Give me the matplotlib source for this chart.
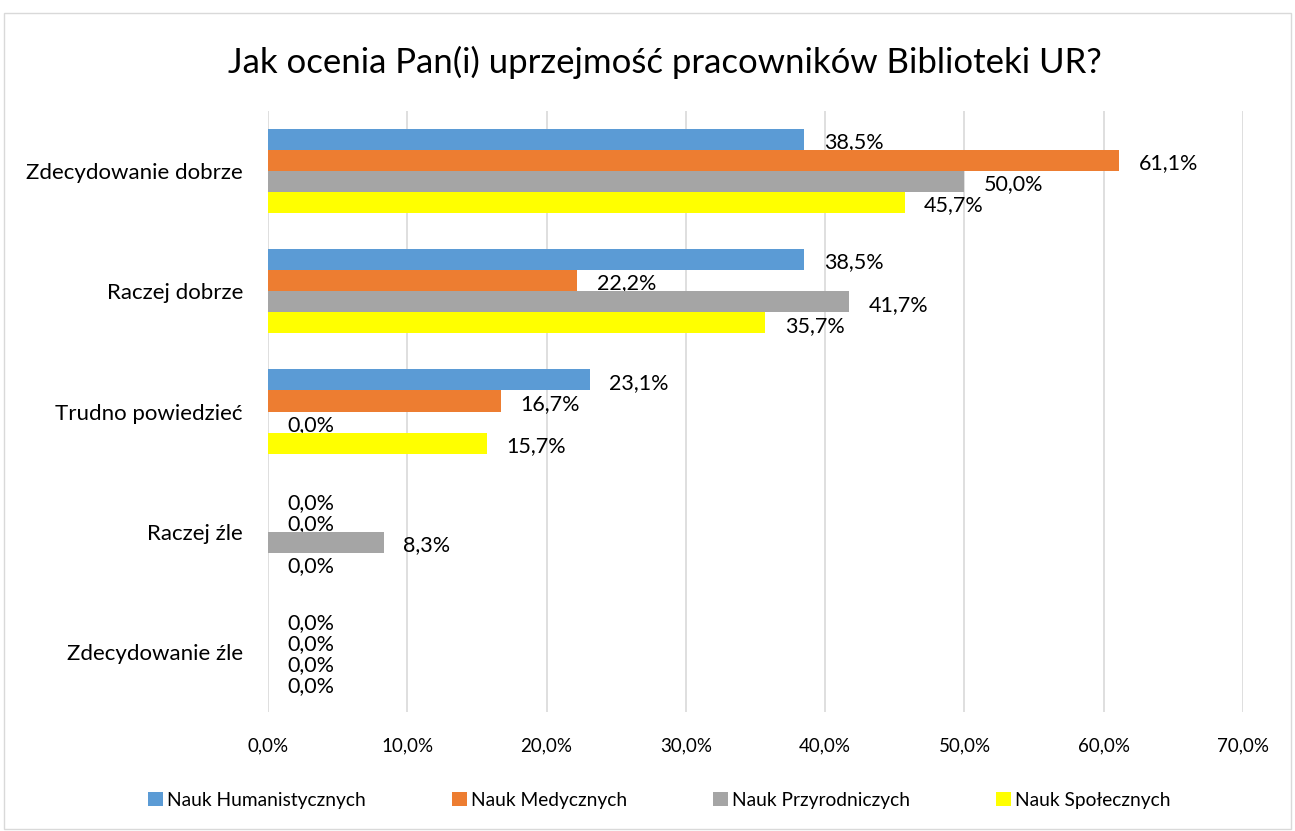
import matplotlib
matplotlib.use("Agg")
import matplotlib.pyplot as plt
import numpy as np
from matplotlib.patches import Rectangle
from matplotlib.ticker import FuncFormatter

plt.rcParams["font.family"] = ["Lato", "DejaVu Sans"]

# dane
kategorie = ["Zdecydowanie dobrze", "Raczej dobrze", "Trudno powiedzieć", "Raczej źle", "Zdecydowanie źle"]
serie = ["Nauk Humanistycznych", "Nauk Medycznych", "Nauk Przyrodniczych", "Nauk Społecznych"]
humanistyczne = [38.5, 38.5, 23.1, 0.0, 0.0]
medyczne = [61.1, 22.2, 16.7, 0.0, 0.0]
przyrodnicze = [50.0, 41.7, 0.0, 8.3, 0.0]
spoleczne = [45.7, 35.7, 15.7, 0.0, 0.0]
kolory = ["#5B9BD5", "#ED7D31", "#A5A5A5", "#FFFF00"]

wartosci = [humanistyczne, medyczne, przyrodnicze, spoleczne]

fig = plt.figure(figsize=(12.95, 8.31), dpi=100)
ax = fig.add_axes([0.2069, 0.1432, 0.7530, 0.7232])

# ramka wokół wykresu
fig.patches.append(Rectangle((0.003, 0.002), 0.994, 0.982, transform=fig.transFigure,
                             fill=False, edgecolor="#D9D9D9", linewidth=1))

y = np.arange(len(kategorie))
h = 0.175
for i, (vals, kol, nazwa) in enumerate(zip(wartosci, kolory, serie)):
    pos = y + (i - 1.5) * h
    ax.barh(pos, vals, height=h, color=kol, label=nazwa, zorder=3)
    for p, v in zip(pos, vals):
        ax.annotate(f"{v:.1f}%".replace(".", ","), xy=(v, p), xytext=(14, -2),
                    textcoords="offset points", va="center", ha="left",
                    fontsize=15.5, color="#000000")

ax.set_ylim(len(kategorie) - 0.5, -0.5)
ax.set_xlim(0, 70)
ax.set_xticks(np.arange(0, 71, 10))
ax.xaxis.set_major_formatter(FuncFormatter(lambda v, _: f"{v:.1f}%".replace(".", ",")))
ax.set_yticks(y)
ax.set_yticklabels(kategorie)
ax.tick_params(axis="both", length=0, colors="#000000")
ax.tick_params(axis="y", pad=18, labelsize=16)
ax.tick_params(axis="x", pad=18, labelsize=13.5)
ax.grid(axis="x", color="#D9D9D9", linewidth=1.2, zorder=0)
for s in ax.spines.values():
    s.set_visible(False)

fig.text(0.5135, 0.925, "Jak ocenia Pan(i) uprzejmość pracowników Biblioteki UR?",
         ha="center", va="center", fontsize=25, color="#000000")

fig.legend(loc="center", bbox_to_anchor=(0.509, 0.037), ncol=4, frameon=False,
           fontsize=13.75, handlelength=0.8, handleheight=0.8, handletextpad=0.2,
           columnspacing=4.5)

fig.savefig("out.png", dpi=100)
